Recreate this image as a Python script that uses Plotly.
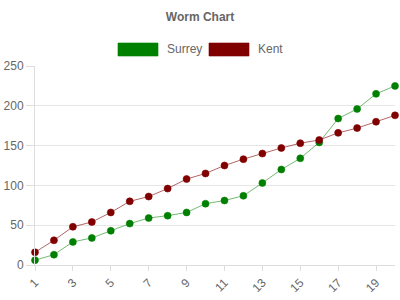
import plotly.graph_objects as go

x = list(range(1, 21))
surrey = [6, 13, 29, 34, 43, 52, 59, 62, 66, 77, 81, 87, 103, 120, 134, 154, 184, 196, 215, 225]
kent = [16, 31, 48, 54, 66, 80, 86, 96, 108, 115, 125, 133, 140, 147, 153, 157, 166, 172, 180, 188]
series = [("Surrey", surrey, "#008000", "rgba(0,128,0,0.55)"),
          ("Kent", kent, "#800000", "rgba(128,0,0,0.6)")]

fig = go.Figure()
for name, vals, col, lcol in series:
    fig.add_trace(go.Scatter(
        x=x, y=vals, name=name, mode="lines+markers",
        line=dict(color=lcol, width=1),
        marker=dict(color=col, size=7, line=dict(color=lcol, width=1)),
        showlegend=False, cliponaxis=False,
    ))

# legend drawn as swatches
legend_items = [("Surrey", "#008000", "rgba(0,128,0,0.6)", 118, 165),
                ("Kent", "#800000", "rgba(128,0,0,0.6)", 209, 256)]
for name, col, bcol, x0, tx in legend_items:
    fig.add_shape(type="rect", xref="paper", yref="paper",
                  x0=(x0 - 35) / 360, x1=(x0 + 40 - 35) / 360,
                  y0=(265 - 56) / 199, y1=(265 - 43) / 199,
                  fillcolor=col, line=dict(color=bcol, width=1))
    fig.add_annotation(xref="paper", yref="paper", x=(tx - 35) / 360, y=(265 - 49.5) / 199,
                       text=name, showarrow=False, xanchor="left", yanchor="middle",
                       font=dict(size=12, color="#666666"))

fig.update_layout(
    width=400, height=300,
    margin=dict(l=35, r=5, t=66, b=35),
    paper_bgcolor="white", plot_bgcolor="white",
    font=dict(family="Liberation Sans, Arial, sans-serif", color="#666666", size=12),
    title=dict(text="<b>Worm Chart</b>", x=0.5, xanchor="center", y=1 - 17 / 300, yanchor="middle",
               font=dict(size=12, color="#666666")),
    xaxis=dict(range=[1, 20], tickmode="array", tickvals=list(range(1, 21, 2)),
               ticktext=[str(v) for v in range(1, 21, 2)], tickangle=-45,
               showgrid=False, zeroline=False, showline=True, linecolor="#dddddd",
               ticks="outside", ticklen=5, tickcolor="#dddddd",
               tickfont=dict(size=12, color="#666666")),
    yaxis=dict(range=[0, 250], dtick=50, showgrid=True, gridcolor="#e6e6e6",
               zeroline=False, showline=True, linecolor="#dddddd",
               ticks="outside", ticklen=8, tickcolor="#dddddd",
               tickfont=dict(size=12, color="#666666")),
)

fig.write_html("out.html")
